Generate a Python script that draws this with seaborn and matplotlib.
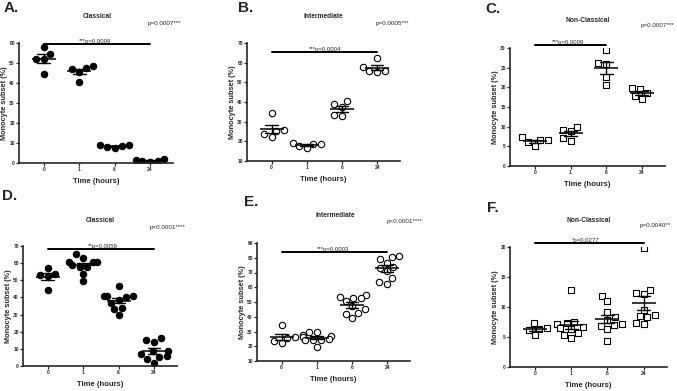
import pandas as pd
import seaborn as sns
import matplotlib.pyplot as plt

times = ["0", "1", "6", "24"]

# top row, n = 5 per time point
classical_top = [[54.5, 57.8, 52.0, 52.0, 44.7],
                 [48.7, 47.5, 47.0, 45.3, 40.3],
                 [9.2, 9.0, 8.3, 8.0, 7.7],
                 [2.0, 1.5, 1.0, 0.8, 0.5]]
intermediate_top = [[25.3, 34.5, 26.0, 23.5, 22.3],
                    [19.2, 18.8, 18.8, 17.5, 16.6],
                    [40.7, 38.8, 37.6, 33.4, 32.9],
                    [62.3, 57.8, 55.7, 55.7, 55.2]]
nonclassical_top = [[6.5, 6.5, 7.4, 6.1, 5.1],
                    [9.9, 9.2, 8.8, 7.1, 6.4],
                    [29.4, 26.3, 26.0, 22.6, 20.5],
                    [19.9, 19.5, 18.6, 17.8, 17.1]]

# bottom row, n = 5 at 0 h, n = 10 afterwards
classical_bot = [[53.9, 57.2, 52.9, 52.3, 44.6],
                 [65.2, 63.2, 60.7, 60.7, 60.7, 58.8, 57.8, 57.8, 53.9, 49.4],
                 [46.5, 41.0, 41.0, 41.0, 40.5, 38.5, 37.0, 34.0, 33.0, 29.5],
                 [16.3, 15.0, 14.0, 9.0, 8.5, 7.0, 6.0, 5.5, 4.0, 2.0]]
intermediate_bot = [[34.5, 26.0, 25.5, 23.5, 22.0],
                    [30.0, 29.5, 27.5, 27.0, 26.0, 25.0, 24.5, 24.5, 24.0, 19.5],
                    [54.5, 53.5, 53.0, 52.5, 50.5, 47.0, 45.0, 42.5, 42.0, 39.0],
                    [80.5, 81.0, 79.0, 76.5, 74.0, 73.0, 71.0, 66.5, 63.5, 62.5]]
nonclassical_bot = [[7.4, 6.1, 6.4, 6.5, 5.3],
                    [12.9, 7.5, 7.3, 7.2, 6.6, 6.5, 6.3, 5.6, 5.4, 4.9],
                    [11.9, 11.0, 9.2, 8.3, 7.9, 7.2, 7.0, 6.9, 6.3, 4.4],
                    [19.8, 12.8, 12.3, 12.2, 9.5, 8.7, 8.5, 8.3, 7.4, 7.2]]

titles = ["Classical", "Intermediate", "Non-Classical"] * 2
labels = ["A.", "B.", "C.", "D.", "E.", "F."]
pvals = ["p=0.0007***", "p=0.0005***", "p=0.0007***",
         "p<0.0001****", "p<0.0001****", "p=0.0040**"]
sig_texts = ["***p=0.0009", "***p=0.0004", "***p=0.0009",
             "**p=0.0059", "***p=0.0003", "*p=0.0277"]
sig_end = [3, 3, 2, 3, 3, 3]
sig_y = [59.7, 65.4, 30.8, 68.1, 83.9, 20.6]
ylims = [(0, 60), (10, 70), (0, 30), (0, 70), (10, 90), (0, 20)]
ysteps = [10, 10, 5, 10, 10, 5]
all_data = [classical_top, intermediate_top, nonclassical_top,
            classical_bot, intermediate_bot, nonclassical_bot]

W, H = 677, 391
# axes boxes in pixels: x0, x1, ytop, ybottom
boxes = [(19, 173, 43, 163), (247, 400, 43, 161), (510, 665, 48, 166),
         (23, 177, 246, 366), (257, 410, 243, 361), (510, 667, 247, 367)]
title_xy = [(97, 17), (323, 17), (588, 20), (100, 220), (335, 216), (589, 220)]
p_xy = [(164, 23), (392, 23), (657, 25), (168, 227), (405, 222), (655, 225)]
label_xy = [(11, 8), (246, 8), (493, 9), (10, 196), (251, 202), (493, 208)]
sig_x = [1.46, 1.52, 0.92, 1.56, 1.45, 1.39]

sns.set_style("ticks")
plt.rcParams['font.family'] = ['Liberation Sans', 'DejaVu Sans']

fig = plt.figure(figsize=(W / 100, H / 100), dpi=100)

for i in range(6):
    x0, x1, yt, yb = boxes[i]
    ax = fig.add_axes([x0 / W, 1 - yb / H, (x1 - x0) / W, (yb - yt) / H])
    rows = []
    for t, vals in zip(times, all_data[i]):
        for v in vals:
            rows.append({"time": t, "value": v})
    df = pd.DataFrame(rows)

    kind = i % 3
    marker = "s" if kind == 2 else "o"
    face = "black" if kind == 0 else "white"
    sns.swarmplot(data=df, x="time", y="value", order=times, color=face,
                  edgecolor="black", linewidth=0.8, marker=marker, size=4.6,
                  ax=ax, zorder=2)
    sns.pointplot(data=df, x="time", y="value", order=times, errorbar="se",
                  linestyle="none", markers="_", markersize=17,
                  markeredgewidth=1.1, capsize=0.36, color="black",
                  err_kws={"linewidth": 1.0}, ax=ax, zorder=3)

    lo, hi = ylims[i]
    ax.set_ylim(lo, hi)
    ax.set_yticks(range(lo, hi + 1, ysteps[i]))
    ax.set_xlim(-0.7, 3.65)
    ax.set_xlabel("Time (hours)", fontsize=5.5, fontweight="bold", labelpad=4)
    ax.set_ylabel("Monocyte subset (%)", fontsize=5.3, fontweight="bold", labelpad=1)
    ax.tick_params(labelsize=3.5, length=2, width=0.9, pad=1)
    for lab in ax.get_xticklabels() + ax.get_yticklabels():
        lab.set_fontweight("bold")
    for s in ["left", "bottom"]:
        ax.spines[s].set_linewidth(1.2)
    sns.despine(ax=ax)

    ax.plot([0, sig_end[i]], [sig_y[i], sig_y[i]], color="black", lw=1.4,
            clip_on=False)
    ax.text(sig_x[i], sig_y[i], sig_texts[i], fontsize=4.3, ha="center",
            va="bottom")

    fig.text(title_xy[i][0] / W, 1 - title_xy[i][1] / H, titles[i],
             fontsize=4.8, fontweight="bold", ha="center", va="center")
    fig.text(p_xy[i][0] / W, 1 - p_xy[i][1] / H, pvals[i],
             fontsize=4.5, ha="center", va="center")
    fig.text(label_xy[i][0] / W, 1 - label_xy[i][1] / H, labels[i],
             fontsize=11, fontweight="bold", ha="center", va="center")

fig.savefig("out.png", dpi=100)
